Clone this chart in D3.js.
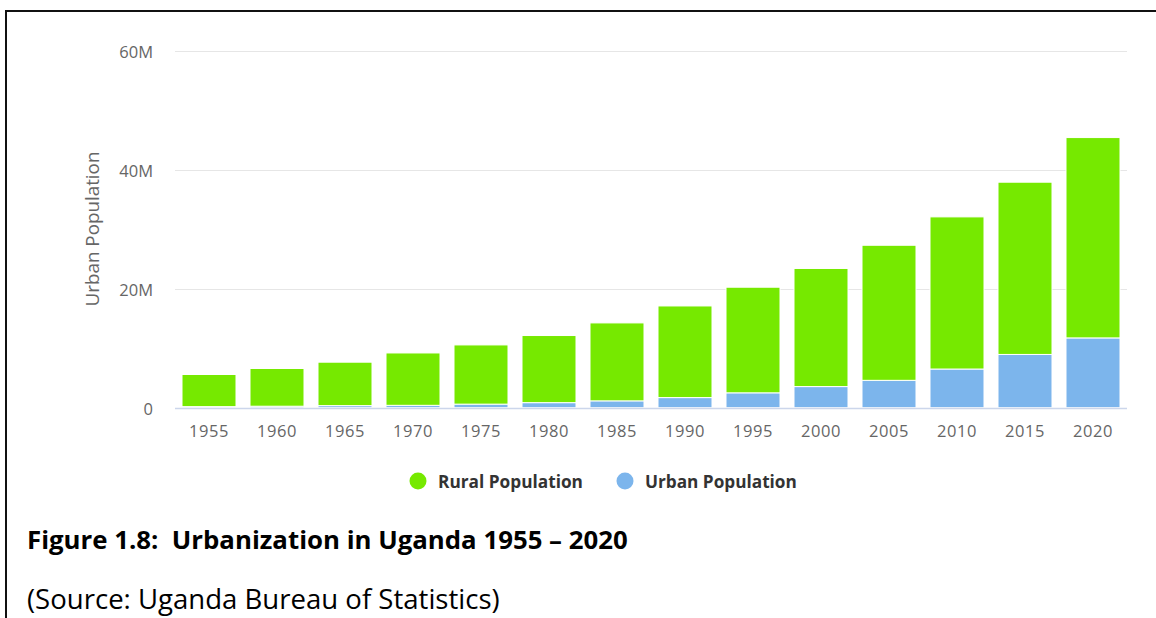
<!DOCTYPE html>
<html>
<head>
<meta charset="utf-8">
<script src="https://cdn.jsdelivr.net/npm/d3@7"></script>
<style>
  html, body { margin: 0; padding: 0; background: #fff; }
  svg { display: block; }
  text { font-family: "Open Sans", "Noto Sans", sans-serif; }
</style>
</head>
<body>
<svg id="chart" width="1156" height="618"></svg>
<script>
// Uganda population by census year, in millions
const years = ["1955", "1960", "1965", "1970", "1975", "1980", "1985",
               "1990", "1995", "2000", "2005", "2010", "2015", "2020"];
const ruralPopulation = [5.40, 6.34, 7.30, 8.80, 9.95, 11.28, 13.10,
                         15.40, 17.75, 19.85, 22.70, 25.57, 28.95, 33.67];
const urbanPopulation = [0.18, 0.25, 0.35, 0.40, 0.60, 0.85, 1.15,
                         1.70, 2.50, 3.55, 4.60, 6.50, 8.95, 11.73];
const yTicks = [0, 20, 40, 60];
const seriesNames = ["Rural Population", "Urban Population"];
const seriesColors = ["#76e900", "#7cb5ec"];

const svg = d3.select("#chart");

// Shrink or grow a text's font size so it spans the given width
function fitWidth(sel, width) {
  const node = sel.node();
  const fs = parseFloat(sel.attr("font-size"));
  const w = node.getComputedTextLength();
  if (w > 0) sel.attr("font-size", (fs * width / w).toFixed(2));
  return sel;
}

// Page frame
svg.append("line").attr("x1", 5).attr("x2", 1156).attr("y1", 11).attr("y2", 11)
  .attr("stroke", "#111").attr("stroke-width", 2);
svg.append("line").attr("x1", 6).attr("x2", 6).attr("y1", 10).attr("y2", 618)
  .attr("stroke", "#111").attr("stroke-width", 2);

// Plot area
const plot = { left: 175, right: 1127, top: 50.7, bottom: 407.7 };

const x = d3.scaleBand().domain(years)
  .range([plot.left, plot.right])
  .paddingInner(0.206).paddingOuter(0.103);
const y = d3.scaleLinear().domain([0, 60]).range([plot.bottom, plot.top]);

// Horizontal grid lines
svg.append("g").selectAll("line").data(yTicks.filter(d => d > 0)).join("line")
  .attr("x1", plot.left).attr("x2", plot.right)
  .attr("y1", d => Math.round(y(d)) + 0.5).attr("y2", d => Math.round(y(d)) + 0.5)
  .attr("stroke", "#e6e6e6").attr("stroke-width", 1);

// Stacked bars: urban at the bottom, rural above
const rows = years.map((yr, i) => ({ year: yr, rural: ruralPopulation[i], urban: urbanPopulation[i] }));
const stack = d3.stack().keys(["urban", "rural"]);
const layers = stack(rows);
const colorOf = { rural: seriesColors[0], urban: seriesColors[1] };

svg.append("g").selectAll("g").data(layers).join("g")
  .attr("fill", d => colorOf[d.key])
  .selectAll("rect").data(d => d).join("rect")
  .attr("x", d => x(d.data.year))
  .attr("width", x.bandwidth())
  .attr("y", d => y(d[1]))
  .attr("height", d => Math.max(0, y(d[0]) - y(d[1])))
  .attr("stroke", "#ffffff").attr("stroke-width", 1);

// X axis line
svg.append("line").attr("x1", plot.left).attr("x2", plot.right)
  .attr("y1", Math.round(plot.bottom) + 0.5).attr("y2", Math.round(plot.bottom) + 0.5)
  .attr("stroke", "#ccd6eb").attr("stroke-width", 1.5);

// X axis labels
const xAxis = svg.append("g")
  .attr("transform", `translate(0,${Math.round(plot.bottom)})`)
  .call(d3.axisBottom(x).tickSize(0).tickPadding(0));
xAxis.select(".domain").remove();
xAxis.selectAll("text")
  .attr("dy", null).attr("y", 28.5)
  .attr("font-family", "\"Open Sans\", sans-serif")
  .attr("font-size", 16.5).attr("fill", "#666666")
  .attr("letter-spacing", 0.6);

// Y axis labels
const yAxis = svg.append("g")
  .attr("transform", `translate(153,0)`)
  .call(d3.axisLeft(y).tickValues(yTicks).tickSize(0).tickPadding(0)
    .tickFormat(d => d === 0 ? "0" : d + "M"));
yAxis.select(".domain").remove();
yAxis.selectAll("text")
  .attr("dy", null).attr("y", 7)
  .attr("font-family", "\"Open Sans\", sans-serif")
  .attr("font-size", 16.5).attr("fill", "#666666");

// Y axis title
const yTitle = svg.append("text")
  .attr("transform", "translate(99,229) rotate(-90)")
  .attr("text-anchor", "middle")
  .attr("font-size", 17).attr("fill", "#666666")
  .text("Urban Population");
fitWidth(yTitle, 155);

// Legend
const legendItems = [
  { name: seriesNames[0], color: seriesColors[0], cx: 418, tx: 438 },
  { name: seriesNames[1], color: seriesColors[1], cx: 625, tx: 645 }
];
const legendWidths = [145, 152];
legendItems.forEach((it, i) => {
  svg.append("circle").attr("cx", it.cx).attr("cy", 481).attr("r", 8.5).attr("fill", it.color);
  const t = svg.append("text").attr("x", it.tx).attr("y", 488)
    .attr("font-size", 16).attr("font-weight", 700).attr("fill", "#333333")
    .text(it.name);
  fitWidth(t, legendWidths[i]);
});

// Caption
const title = svg.append("text").attr("x", 27).attr("y", 549)
  .attr("font-size", 21).attr("font-weight", 700).attr("fill", "#000")
  .attr("xml:space", "preserve").style("white-space", "pre")
  .text("Figure 1.8:  Urbanization in Uganda 1955 \u2013 2020");
fitWidth(title, 601);

const source = svg.append("text").attr("x", 27).attr("y", 608.5)
  .attr("font-size", 24).attr("fill", "#000")
  .text("(Source: Uganda Bureau of Statistics)");
fitWidth(source, 473);
</script>
</body>
</html>
